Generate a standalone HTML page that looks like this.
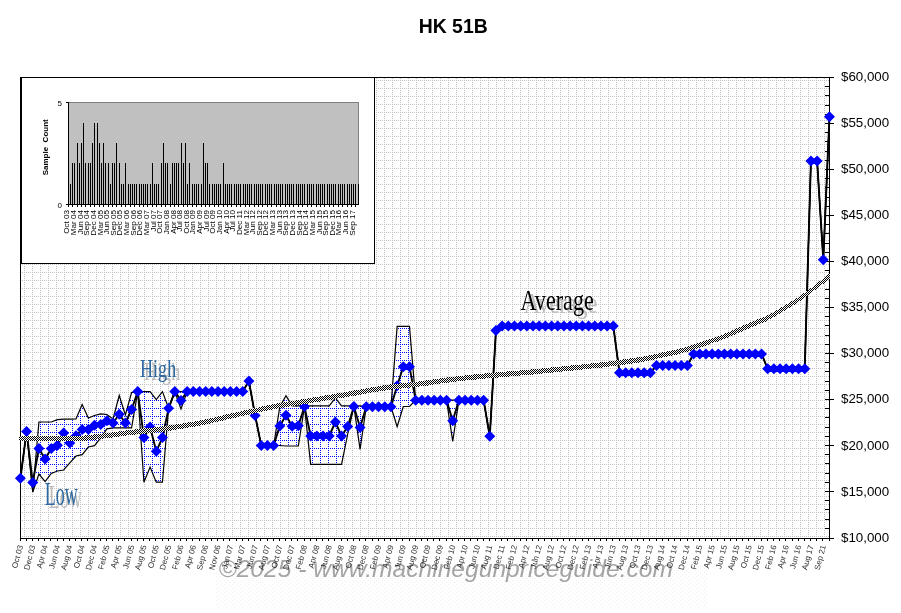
<!DOCTYPE html><html><head><meta charset="utf-8"><title>HK 51B</title><style>html,body{margin:0;padding:0;background:#fff}body{width:901px;height:613px;overflow:hidden}svg{display:block;will-change:transform}text{font-family:"Liberation Sans",sans-serif}</style></head><body>
<svg width="901" height="613" viewBox="0 0 901 613">
<defs>
<pattern id="gg" width="8" height="8" patternUnits="userSpaceOnUse"><rect x="0" y="0" width="1" height="1" fill="#c0c0c0"/><rect x="2" y="0" width="1" height="1" fill="#c0c0c0"/><rect x="4" y="0" width="1" height="1" fill="#c0c0c0"/><rect x="6" y="0" width="1" height="1" fill="#c0c0c0"/><rect x="0" y="2" width="1" height="1" fill="#c0c0c0"/><rect x="0" y="4" width="1" height="1" fill="#c0c0c0"/><rect x="0" y="6" width="1" height="1" fill="#c0c0c0"/></pattern>
<pattern id="gb" width="8" height="8" patternUnits="userSpaceOnUse"><rect x="0" y="0" width="1" height="1" fill="#0000ff"/><rect x="2" y="0" width="1" height="1" fill="#0000ff"/><rect x="4" y="0" width="1" height="1" fill="#0000ff"/><rect x="6" y="0" width="1" height="1" fill="#0000ff"/><rect x="0" y="2" width="1" height="1" fill="#0000ff"/><rect x="0" y="4" width="1" height="1" fill="#0000ff"/><rect x="0" y="6" width="1" height="1" fill="#0000ff"/></pattern>
<pattern id="ck" width="2" height="2" patternUnits="userSpaceOnUse"><rect width="2" height="2" fill="#fff"/><rect x="0" y="0" width="1" height="1" fill="#000"/><rect x="1" y="1" width="1" height="1" fill="#000"/></pattern>
<pattern id="wm" width="4" height="4" patternUnits="userSpaceOnUse"><rect x="0" y="0" width="1" height="1" fill="#f0f0f0"/><rect x="2" y="2" width="1" height="1" fill="#f0f0f0"/></pattern>
</defs>
<rect width="901" height="613" fill="#fff"/>
<text x="453.2" y="32.8" font-size="19.4" font-weight="bold" text-anchor="middle" fill="#000">HK 51B</text>
<g shape-rendering="crispEdges">
<rect x="22" y="78" width="807" height="460" fill="url(#gg)"/>
</g>
<g shape-rendering="crispEdges" fill="#000">
<rect x="20" y="77" width="1" height="462"/>
<rect x="20" y="77" width="810" height="1"/>
<rect x="829" y="77" width="1" height="462"/>
<rect x="20" y="538" width="810" height="1"/>
<rect x="825" y="77" width="9" height="1"/>
<rect x="825" y="86" width="4" height="1"/>
<rect x="825" y="95" width="4" height="1"/>
<rect x="825" y="105" width="4" height="1"/>
<rect x="825" y="114" width="4" height="1"/>
<rect x="825" y="123" width="9" height="1"/>
<rect x="825" y="132" width="4" height="1"/>
<rect x="825" y="141" width="4" height="1"/>
<rect x="825" y="151" width="4" height="1"/>
<rect x="825" y="160" width="4" height="1"/>
<rect x="825" y="169" width="9" height="1"/>
<rect x="825" y="178" width="4" height="1"/>
<rect x="825" y="187" width="4" height="1"/>
<rect x="825" y="197" width="4" height="1"/>
<rect x="825" y="206" width="4" height="1"/>
<rect x="825" y="215" width="9" height="1"/>
<rect x="825" y="224" width="4" height="1"/>
<rect x="825" y="233" width="4" height="1"/>
<rect x="825" y="243" width="4" height="1"/>
<rect x="825" y="252" width="4" height="1"/>
<rect x="825" y="261" width="9" height="1"/>
<rect x="825" y="270" width="4" height="1"/>
<rect x="825" y="279" width="4" height="1"/>
<rect x="825" y="289" width="4" height="1"/>
<rect x="825" y="298" width="4" height="1"/>
<rect x="825" y="307" width="9" height="1"/>
<rect x="825" y="316" width="4" height="1"/>
<rect x="825" y="325" width="4" height="1"/>
<rect x="825" y="335" width="4" height="1"/>
<rect x="825" y="344" width="4" height="1"/>
<rect x="825" y="353" width="9" height="1"/>
<rect x="825" y="362" width="4" height="1"/>
<rect x="825" y="371" width="4" height="1"/>
<rect x="825" y="381" width="4" height="1"/>
<rect x="825" y="390" width="4" height="1"/>
<rect x="825" y="399" width="9" height="1"/>
<rect x="825" y="408" width="4" height="1"/>
<rect x="825" y="417" width="4" height="1"/>
<rect x="825" y="427" width="4" height="1"/>
<rect x="825" y="436" width="4" height="1"/>
<rect x="825" y="445" width="9" height="1"/>
<rect x="825" y="454" width="4" height="1"/>
<rect x="825" y="463" width="4" height="1"/>
<rect x="825" y="473" width="4" height="1"/>
<rect x="825" y="482" width="4" height="1"/>
<rect x="825" y="491" width="9" height="1"/>
<rect x="825" y="500" width="4" height="1"/>
<rect x="825" y="509" width="4" height="1"/>
<rect x="825" y="519" width="4" height="1"/>
<rect x="825" y="528" width="4" height="1"/>
<rect x="825" y="538" width="9" height="1"/>
<rect x="20" y="538" width="1" height="3"/>
<rect x="26" y="538" width="1" height="3"/>
<rect x="32" y="538" width="1" height="3"/>
<rect x="38" y="538" width="1" height="3"/>
<rect x="44" y="538" width="1" height="3"/>
<rect x="50" y="538" width="1" height="3"/>
<rect x="57" y="538" width="1" height="3"/>
<rect x="63" y="538" width="1" height="3"/>
<rect x="69" y="538" width="1" height="3"/>
<rect x="75" y="538" width="1" height="3"/>
<rect x="81" y="538" width="1" height="3"/>
<rect x="87" y="538" width="1" height="3"/>
<rect x="94" y="538" width="1" height="3"/>
<rect x="100" y="538" width="1" height="3"/>
<rect x="106" y="538" width="1" height="3"/>
<rect x="112" y="538" width="1" height="3"/>
<rect x="118" y="538" width="1" height="3"/>
<rect x="124" y="538" width="1" height="3"/>
<rect x="131" y="538" width="1" height="3"/>
<rect x="137" y="538" width="1" height="3"/>
<rect x="143" y="538" width="1" height="3"/>
<rect x="149" y="538" width="1" height="3"/>
<rect x="155" y="538" width="1" height="3"/>
<rect x="162" y="538" width="1" height="3"/>
<rect x="168" y="538" width="1" height="3"/>
<rect x="174" y="538" width="1" height="3"/>
<rect x="180" y="538" width="1" height="3"/>
<rect x="186" y="538" width="1" height="3"/>
<rect x="192" y="538" width="1" height="3"/>
<rect x="199" y="538" width="1" height="3"/>
<rect x="205" y="538" width="1" height="3"/>
<rect x="211" y="538" width="1" height="3"/>
<rect x="217" y="538" width="1" height="3"/>
<rect x="223" y="538" width="1" height="3"/>
<rect x="229" y="538" width="1" height="3"/>
<rect x="236" y="538" width="1" height="3"/>
<rect x="242" y="538" width="1" height="3"/>
<rect x="248" y="538" width="1" height="3"/>
<rect x="254" y="538" width="1" height="3"/>
<rect x="260" y="538" width="1" height="3"/>
<rect x="267" y="538" width="1" height="3"/>
<rect x="273" y="538" width="1" height="3"/>
<rect x="279" y="538" width="1" height="3"/>
<rect x="285" y="538" width="1" height="3"/>
<rect x="291" y="538" width="1" height="3"/>
<rect x="297" y="538" width="1" height="3"/>
<rect x="304" y="538" width="1" height="3"/>
<rect x="310" y="538" width="1" height="3"/>
<rect x="316" y="538" width="1" height="3"/>
<rect x="322" y="538" width="1" height="3"/>
<rect x="328" y="538" width="1" height="3"/>
<rect x="334" y="538" width="1" height="3"/>
<rect x="341" y="538" width="1" height="3"/>
<rect x="347" y="538" width="1" height="3"/>
<rect x="353" y="538" width="1" height="3"/>
<rect x="359" y="538" width="1" height="3"/>
<rect x="365" y="538" width="1" height="3"/>
<rect x="372" y="538" width="1" height="3"/>
<rect x="378" y="538" width="1" height="3"/>
<rect x="384" y="538" width="1" height="3"/>
<rect x="390" y="538" width="1" height="3"/>
<rect x="396" y="538" width="1" height="3"/>
<rect x="402" y="538" width="1" height="3"/>
<rect x="409" y="538" width="1" height="3"/>
<rect x="415" y="538" width="1" height="3"/>
<rect x="421" y="538" width="1" height="3"/>
<rect x="427" y="538" width="1" height="3"/>
<rect x="433" y="538" width="1" height="3"/>
<rect x="439" y="538" width="1" height="3"/>
<rect x="446" y="538" width="1" height="3"/>
<rect x="452" y="538" width="1" height="3"/>
<rect x="458" y="538" width="1" height="3"/>
<rect x="464" y="538" width="1" height="3"/>
<rect x="470" y="538" width="1" height="3"/>
<rect x="477" y="538" width="1" height="3"/>
<rect x="483" y="538" width="1" height="3"/>
<rect x="489" y="538" width="1" height="3"/>
<rect x="495" y="538" width="1" height="3"/>
<rect x="501" y="538" width="1" height="3"/>
<rect x="507" y="538" width="1" height="3"/>
<rect x="514" y="538" width="1" height="3"/>
<rect x="520" y="538" width="1" height="3"/>
<rect x="526" y="538" width="1" height="3"/>
<rect x="532" y="538" width="1" height="3"/>
<rect x="538" y="538" width="1" height="3"/>
<rect x="544" y="538" width="1" height="3"/>
<rect x="551" y="538" width="1" height="3"/>
<rect x="557" y="538" width="1" height="3"/>
<rect x="563" y="538" width="1" height="3"/>
<rect x="569" y="538" width="1" height="3"/>
<rect x="575" y="538" width="1" height="3"/>
<rect x="582" y="538" width="1" height="3"/>
<rect x="588" y="538" width="1" height="3"/>
<rect x="594" y="538" width="1" height="3"/>
<rect x="600" y="538" width="1" height="3"/>
<rect x="606" y="538" width="1" height="3"/>
<rect x="612" y="538" width="1" height="3"/>
<rect x="619" y="538" width="1" height="3"/>
<rect x="625" y="538" width="1" height="3"/>
<rect x="631" y="538" width="1" height="3"/>
<rect x="637" y="538" width="1" height="3"/>
<rect x="643" y="538" width="1" height="3"/>
<rect x="649" y="538" width="1" height="3"/>
<rect x="656" y="538" width="1" height="3"/>
<rect x="662" y="538" width="1" height="3"/>
<rect x="668" y="538" width="1" height="3"/>
<rect x="674" y="538" width="1" height="3"/>
<rect x="680" y="538" width="1" height="3"/>
<rect x="687" y="538" width="1" height="3"/>
<rect x="693" y="538" width="1" height="3"/>
<rect x="699" y="538" width="1" height="3"/>
<rect x="705" y="538" width="1" height="3"/>
<rect x="711" y="538" width="1" height="3"/>
<rect x="717" y="538" width="1" height="3"/>
<rect x="724" y="538" width="1" height="3"/>
<rect x="730" y="538" width="1" height="3"/>
<rect x="736" y="538" width="1" height="3"/>
<rect x="742" y="538" width="1" height="3"/>
<rect x="748" y="538" width="1" height="3"/>
<rect x="754" y="538" width="1" height="3"/>
<rect x="761" y="538" width="1" height="3"/>
<rect x="767" y="538" width="1" height="3"/>
<rect x="773" y="538" width="1" height="3"/>
<rect x="779" y="538" width="1" height="3"/>
<rect x="785" y="538" width="1" height="3"/>
<rect x="792" y="538" width="1" height="3"/>
<rect x="798" y="538" width="1" height="3"/>
<rect x="804" y="538" width="1" height="3"/>
<rect x="810" y="538" width="1" height="3"/>
<rect x="816" y="538" width="1" height="3"/>
<rect x="822" y="538" width="1" height="3"/>
<rect x="829" y="538" width="1" height="3"/>
</g>
<path d="M32.75 492 L38.93 422 L45.1 422 L51.28 422 L57.46 419.6 L63.63 419.2 L69.81 419.2 L75.98 419 L82.16 404.6 L88.34 418 L94.51 415.5 L100.69 413.9 L106.86 414.5 L113.04 419 L119.22 395.5 L125.39 415 L131.57 392.6 L137.74 391.6 L143.92 391.6 L150.1 391.6 L156.27 399.5 L162.45 391.6 L168.62 408.3 L174.8 391.6 L180.98 391.6 L187.15 391.5 L187.15 391.5 L180.98 409 L174.8 391.6 L168.62 408.3 L162.45 482.2 L156.27 482.2 L150.1 467 L143.92 482.2 L137.74 391.6 L131.57 427.8 L125.39 427.8 L119.22 427.8 L113.04 427.8 L106.86 428.8 L100.69 438 L94.51 445.7 L88.34 447 L82.16 454.6 L75.98 456 L69.81 462.8 L63.63 470 L57.46 471 L51.28 473.4 L45.1 481.6 L38.93 474 L32.75 492Z" fill="#fff"/><path d="M32.75 492 L38.93 422 L45.1 422 L51.28 422 L57.46 419.6 L63.63 419.2 L69.81 419.2 L75.98 419 L82.16 404.6 L88.34 418 L94.51 415.5 L100.69 413.9 L106.86 414.5 L113.04 419 L119.22 395.5 L125.39 415 L131.57 392.6 L137.74 391.6 L143.92 391.6 L150.1 391.6 L156.27 399.5 L162.45 391.6 L168.62 408.3 L174.8 391.6 L180.98 391.6 L187.15 391.5 L187.15 391.5 L180.98 409 L174.8 391.6 L168.62 408.3 L162.45 482.2 L156.27 482.2 L150.1 467 L143.92 482.2 L137.74 391.6 L131.57 427.8 L125.39 427.8 L119.22 427.8 L113.04 427.8 L106.86 428.8 L100.69 438 L94.51 445.7 L88.34 447 L82.16 454.6 L75.98 456 L69.81 462.8 L63.63 470 L57.46 471 L51.28 473.4 L45.1 481.6 L38.93 474 L32.75 492Z" fill="url(#gb)" shape-rendering="crispEdges"/>
<path d="M273.62 445.5 L279.79 407 L285.97 395.6 L292.14 405.8 L298.32 405.8 L304.5 405.8 L310.67 405.8 L316.85 405.8 L323.02 405.8 L329.2 405.8 L335.38 398 L341.55 405.8 L347.73 405.8 L353.9 405.8 L360.08 405.8 L366.26 406.7 L366.26 406.7 L360.08 449.3 L353.9 406.6 L347.73 434 L341.55 464.3 L335.38 464.3 L329.2 464.3 L323.02 464.3 L316.85 464.3 L310.67 464.3 L304.5 406.6 L298.32 446 L292.14 446 L285.97 446 L279.79 445.5 L273.62 445.5Z" fill="#fff"/><path d="M273.62 445.5 L279.79 407 L285.97 395.6 L292.14 405.8 L298.32 405.8 L304.5 405.8 L310.67 405.8 L316.85 405.8 L323.02 405.8 L329.2 405.8 L335.38 398 L341.55 405.8 L347.73 405.8 L353.9 405.8 L360.08 405.8 L366.26 406.7 L366.26 406.7 L360.08 449.3 L353.9 406.6 L347.73 434 L341.55 464.3 L335.38 464.3 L329.2 464.3 L323.02 464.3 L316.85 464.3 L310.67 464.3 L304.5 406.6 L298.32 446 L292.14 446 L285.97 446 L279.79 445.5 L273.62 445.5Z" fill="url(#gb)" shape-rendering="crispEdges"/>
<path d="M390.96 406.7 L397.14 326.4 L403.31 326.4 L409.49 326.4 L415.66 400.2 L415.66 400.2 L409.49 406.5 L403.31 406.5 L397.14 426.7 L390.96 406.7Z" fill="#fff"/><path d="M390.96 406.7 L397.14 326.4 L403.31 326.4 L409.49 326.4 L415.66 400.2 L415.66 400.2 L409.49 406.5 L403.31 406.5 L397.14 426.7 L390.96 406.7Z" fill="url(#gb)" shape-rendering="crispEdges"/>
<path d="M446.54 400.2 L452.72 400.2 L458.9 400.2 L458.9 400.2 L452.72 441.3 L446.54 400.2Z" fill="#fff"/><path d="M446.54 400.2 L452.72 400.2 L458.9 400.2 L458.9 400.2 L452.72 441.3 L446.54 400.2Z" fill="url(#gb)" shape-rendering="crispEdges"/>
<path d="M20.4 478.3 L26.58 431.5 L32.75 492 L38.93 422 L45.1 422 L51.28 422 L57.46 419.6 L63.63 419.2 L69.81 419.2 L75.98 419 L82.16 404.6 L88.34 418 L94.51 415.5 L100.69 413.9 L106.86 414.5 L113.04 419 L119.22 395.5 L125.39 415 L131.57 392.6 L137.74 391.6 L143.92 391.6 L150.1 391.6 L156.27 399.5 L162.45 391.6 L168.62 408.3 L174.8 391.6 L180.98 391.6 L187.15 391.5 L193.33 391.5 L199.5 391.5 L205.68 391.5 L211.86 391.5 L218.03 391.5 L224.21 391.5 L230.38 391.5 L236.56 391.5 L242.74 391.5 L248.91 381.1 L255.09 415.4 L261.26 445.5 L267.44 445.5 L273.62 445.5 L279.79 407 L285.97 395.6 L292.14 405.8 L298.32 405.8 L304.5 405.8 L310.67 405.8 L316.85 405.8 L323.02 405.8 L329.2 405.8 L335.38 398 L341.55 405.8 L347.73 405.8 L353.9 405.8 L360.08 405.8 L366.26 406.7 L372.43 406.7 L378.61 406.7 L384.78 406.7 L390.96 406.7 L397.14 326.4 L403.31 326.4 L409.49 326.4 L415.66 400.2 L421.84 400.2 L428.02 400.2 L434.19 400.2 L440.37 400.2 L446.54 400.2 L452.72 400.2 L458.9 400.2 L465.07 400.2 L471.25 400.2 L477.42 400.2 L483.6 400.2 L489.78 436.3 L495.95 330.5 L502.13 326.1 L508.3 326.1 L514.48 326.1 L520.66 326.1 L526.83 326.1 L533.01 326.1 L539.18 326.1 L545.36 326.1 L551.54 326.1 L557.71 326.1 L563.89 326.1 L570.06 326.1 L576.24 326.1 L582.42 326.1 L588.59 326.1 L594.77 326.1 L600.94 326.1 L607.12 326.1 L613.3 326.1 L619.47 372.7 L625.65 372.7 L631.82 372.7 L638 372.7 L644.18 372.7 L650.35 372.7 L656.53 365.6 L662.7 365.6 L668.88 365.6 L675.06 365.6 L681.23 365.6 L687.41 365.6 L693.58 353.9 L699.76 353.9 L705.94 353.9 L712.11 353.9 L718.29 353.9 L724.46 353.9 L730.64 353.9 L736.82 353.9 L742.99 353.9 L749.17 353.9 L755.34 353.9 L761.52 353.9 L767.7 368.8 L773.87 368.8 L780.05 368.8 L786.22 368.8 L792.4 368.8 L798.58 368.8 L804.75 368.8 L810.93 160.9 L817.1 160.9 L823.28 259.7 L829.46 116.8" fill="none" stroke="#000" stroke-width="1.2" stroke-linejoin="miter"/>
<path d="M20.4 478.3 L26.58 431.5 L32.75 492 L38.93 474 L45.1 481.6 L51.28 473.4 L57.46 471 L63.63 470 L69.81 462.8 L75.98 456 L82.16 454.6 L88.34 447 L94.51 445.7 L100.69 438 L106.86 428.8 L113.04 427.8 L119.22 427.8 L125.39 427.8 L131.57 427.8 L137.74 391.6 L143.92 482.2 L150.1 467 L156.27 482.2 L162.45 482.2 L168.62 408.3 L174.8 391.6 L180.98 409 L187.15 391.5 L193.33 391.5 L199.5 391.5 L205.68 391.5 L211.86 391.5 L218.03 391.5 L224.21 391.5 L230.38 391.5 L236.56 391.5 L242.74 391.5 L248.91 381.1 L255.09 415.4 L261.26 445.5 L267.44 445.5 L273.62 445.5 L279.79 445.5 L285.97 446 L292.14 446 L298.32 446 L304.5 406.6 L310.67 464.3 L316.85 464.3 L323.02 464.3 L329.2 464.3 L335.38 464.3 L341.55 464.3 L347.73 434 L353.9 406.6 L360.08 449.3 L366.26 406.7 L372.43 406.7 L378.61 406.7 L384.78 406.7 L390.96 406.7 L397.14 426.7 L403.31 406.5 L409.49 406.5 L415.66 400.2 L421.84 400.2 L428.02 400.2 L434.19 400.2 L440.37 400.2 L446.54 400.2 L452.72 441.3 L458.9 400.2 L465.07 400.2 L471.25 400.2 L477.42 400.2 L483.6 400.2 L489.78 436.3 L495.95 330.5 L502.13 326.1 L508.3 326.1 L514.48 326.1 L520.66 326.1 L526.83 326.1 L533.01 326.1 L539.18 326.1 L545.36 326.1 L551.54 326.1 L557.71 326.1 L563.89 326.1 L570.06 326.1 L576.24 326.1 L582.42 326.1 L588.59 326.1 L594.77 326.1 L600.94 326.1 L607.12 326.1 L613.3 326.1 L619.47 372.7 L625.65 372.7 L631.82 372.7 L638 372.7 L644.18 372.7 L650.35 372.7 L656.53 365.6 L662.7 365.6 L668.88 365.6 L675.06 365.6 L681.23 365.6 L687.41 365.6 L693.58 353.9 L699.76 353.9 L705.94 353.9 L712.11 353.9 L718.29 353.9 L724.46 353.9 L730.64 353.9 L736.82 353.9 L742.99 353.9 L749.17 353.9 L755.34 353.9 L761.52 353.9 L767.7 368.8 L773.87 368.8 L780.05 368.8 L786.22 368.8 L792.4 368.8 L798.58 368.8 L804.75 368.8 L810.93 160.9 L817.1 160.9 L823.28 259.7 L829.46 116.8" fill="none" stroke="#000" stroke-width="1.2" stroke-linejoin="miter"/>
<path d="M20.4 478.3 L26.58 431.5 L32.75 482.4 L38.93 448.5 L45.1 459 L51.28 448.5 L57.46 445.2 L63.63 433 L69.81 443 L75.98 435.7 L82.16 429.6 L88.34 429.6 L94.51 425.3 L100.69 424.5 L106.86 420.7 L113.04 423 L119.22 414.3 L125.39 423 L131.57 409.5 L137.74 391.6 L143.92 437.6 L150.1 426.9 L156.27 451.3 L162.45 437.6 L168.62 408.3 L174.8 391.6 L180.98 400.4 L187.15 391.5 L193.33 391.5 L199.5 391.5 L205.68 391.5 L211.86 391.5 L218.03 391.5 L224.21 391.5 L230.38 391.5 L236.56 391.5 L242.74 391.5 L248.91 381.1 L255.09 415.4 L261.26 445.5 L267.44 445.5 L273.62 445.5 L279.79 426 L285.97 415.2 L292.14 426.2 L298.32 425.7 L304.5 406.6 L310.67 436 L316.85 436 L323.02 436 L329.2 436 L335.38 422 L341.55 436 L347.73 426.5 L353.9 406.6 L360.08 427.6 L366.26 406.7 L372.43 406.7 L378.61 406.7 L384.78 406.7 L390.96 406.7 L397.14 385.7 L403.31 366.7 L409.49 366.7 L415.66 400.2 L421.84 400.2 L428.02 400.2 L434.19 400.2 L440.37 400.2 L446.54 400.2 L452.72 420.7 L458.9 400.2 L465.07 400.2 L471.25 400.2 L477.42 400.2 L483.6 400.2 L489.78 436.3 L495.95 330.5 L502.13 326.1 L508.3 326.1 L514.48 326.1 L520.66 326.1 L526.83 326.1 L533.01 326.1 L539.18 326.1 L545.36 326.1 L551.54 326.1 L557.71 326.1 L563.89 326.1 L570.06 326.1 L576.24 326.1 L582.42 326.1 L588.59 326.1 L594.77 326.1 L600.94 326.1 L607.12 326.1 L613.3 326.1 L619.47 372.7 L625.65 372.7 L631.82 372.7 L638 372.7 L644.18 372.7 L650.35 372.7 L656.53 365.6 L662.7 365.6 L668.88 365.6 L675.06 365.6 L681.23 365.6 L687.41 365.6 L693.58 353.9 L699.76 353.9 L705.94 353.9 L712.11 353.9 L718.29 353.9 L724.46 353.9 L730.64 353.9 L736.82 353.9 L742.99 353.9 L749.17 353.9 L755.34 353.9 L761.52 353.9 L767.7 368.8 L773.87 368.8 L780.05 368.8 L786.22 368.8 L792.4 368.8 L798.58 368.8 L804.75 368.8 L810.93 160.9 L817.1 160.9 L823.28 259.7 L829.46 116.8" fill="none" stroke="#000" stroke-width="1.9" stroke-linejoin="round"/>
<path d="M14.9 478.3l5.5 -5.5l5.5 5.5l-5.5 5.5zM21.08 431.5l5.5 -5.5l5.5 5.5l-5.5 5.5zM27.25 482.4l5.5 -5.5l5.5 5.5l-5.5 5.5zM33.43 448.5l5.5 -5.5l5.5 5.5l-5.5 5.5zM39.6 459l5.5 -5.5l5.5 5.5l-5.5 5.5zM45.78 448.5l5.5 -5.5l5.5 5.5l-5.5 5.5zM51.96 445.2l5.5 -5.5l5.5 5.5l-5.5 5.5zM58.13 433l5.5 -5.5l5.5 5.5l-5.5 5.5zM64.31 443l5.5 -5.5l5.5 5.5l-5.5 5.5zM70.48 435.7l5.5 -5.5l5.5 5.5l-5.5 5.5zM76.66 429.6l5.5 -5.5l5.5 5.5l-5.5 5.5zM82.84 429.6l5.5 -5.5l5.5 5.5l-5.5 5.5zM89.01 425.3l5.5 -5.5l5.5 5.5l-5.5 5.5zM95.19 424.5l5.5 -5.5l5.5 5.5l-5.5 5.5zM101.36 420.7l5.5 -5.5l5.5 5.5l-5.5 5.5zM107.54 423l5.5 -5.5l5.5 5.5l-5.5 5.5zM113.72 414.3l5.5 -5.5l5.5 5.5l-5.5 5.5zM119.89 423l5.5 -5.5l5.5 5.5l-5.5 5.5zM126.07 409.5l5.5 -5.5l5.5 5.5l-5.5 5.5zM132.24 391.6l5.5 -5.5l5.5 5.5l-5.5 5.5zM138.42 437.6l5.5 -5.5l5.5 5.5l-5.5 5.5zM144.6 426.9l5.5 -5.5l5.5 5.5l-5.5 5.5zM150.77 451.3l5.5 -5.5l5.5 5.5l-5.5 5.5zM156.95 437.6l5.5 -5.5l5.5 5.5l-5.5 5.5zM163.12 408.3l5.5 -5.5l5.5 5.5l-5.5 5.5zM169.3 391.6l5.5 -5.5l5.5 5.5l-5.5 5.5zM175.48 400.4l5.5 -5.5l5.5 5.5l-5.5 5.5zM181.65 391.5l5.5 -5.5l5.5 5.5l-5.5 5.5zM187.83 391.5l5.5 -5.5l5.5 5.5l-5.5 5.5zM194 391.5l5.5 -5.5l5.5 5.5l-5.5 5.5zM200.18 391.5l5.5 -5.5l5.5 5.5l-5.5 5.5zM206.36 391.5l5.5 -5.5l5.5 5.5l-5.5 5.5zM212.53 391.5l5.5 -5.5l5.5 5.5l-5.5 5.5zM218.71 391.5l5.5 -5.5l5.5 5.5l-5.5 5.5zM224.88 391.5l5.5 -5.5l5.5 5.5l-5.5 5.5zM231.06 391.5l5.5 -5.5l5.5 5.5l-5.5 5.5zM237.24 391.5l5.5 -5.5l5.5 5.5l-5.5 5.5zM243.41 381.1l5.5 -5.5l5.5 5.5l-5.5 5.5zM249.59 415.4l5.5 -5.5l5.5 5.5l-5.5 5.5zM255.76 445.5l5.5 -5.5l5.5 5.5l-5.5 5.5zM261.94 445.5l5.5 -5.5l5.5 5.5l-5.5 5.5zM268.12 445.5l5.5 -5.5l5.5 5.5l-5.5 5.5zM274.29 426l5.5 -5.5l5.5 5.5l-5.5 5.5zM280.47 415.2l5.5 -5.5l5.5 5.5l-5.5 5.5zM286.64 426.2l5.5 -5.5l5.5 5.5l-5.5 5.5zM292.82 425.7l5.5 -5.5l5.5 5.5l-5.5 5.5zM299 406.6l5.5 -5.5l5.5 5.5l-5.5 5.5zM305.17 436l5.5 -5.5l5.5 5.5l-5.5 5.5zM311.35 436l5.5 -5.5l5.5 5.5l-5.5 5.5zM317.52 436l5.5 -5.5l5.5 5.5l-5.5 5.5zM323.7 436l5.5 -5.5l5.5 5.5l-5.5 5.5zM329.88 422l5.5 -5.5l5.5 5.5l-5.5 5.5zM336.05 436l5.5 -5.5l5.5 5.5l-5.5 5.5zM342.23 426.5l5.5 -5.5l5.5 5.5l-5.5 5.5zM348.4 406.6l5.5 -5.5l5.5 5.5l-5.5 5.5zM354.58 427.6l5.5 -5.5l5.5 5.5l-5.5 5.5zM360.76 406.7l5.5 -5.5l5.5 5.5l-5.5 5.5zM366.93 406.7l5.5 -5.5l5.5 5.5l-5.5 5.5zM373.11 406.7l5.5 -5.5l5.5 5.5l-5.5 5.5zM379.28 406.7l5.5 -5.5l5.5 5.5l-5.5 5.5zM385.46 406.7l5.5 -5.5l5.5 5.5l-5.5 5.5zM391.64 385.7l5.5 -5.5l5.5 5.5l-5.5 5.5zM397.81 366.7l5.5 -5.5l5.5 5.5l-5.5 5.5zM403.99 366.7l5.5 -5.5l5.5 5.5l-5.5 5.5zM410.16 400.2l5.5 -5.5l5.5 5.5l-5.5 5.5zM416.34 400.2l5.5 -5.5l5.5 5.5l-5.5 5.5zM422.52 400.2l5.5 -5.5l5.5 5.5l-5.5 5.5zM428.69 400.2l5.5 -5.5l5.5 5.5l-5.5 5.5zM434.87 400.2l5.5 -5.5l5.5 5.5l-5.5 5.5zM441.04 400.2l5.5 -5.5l5.5 5.5l-5.5 5.5zM447.22 420.7l5.5 -5.5l5.5 5.5l-5.5 5.5zM453.4 400.2l5.5 -5.5l5.5 5.5l-5.5 5.5zM459.57 400.2l5.5 -5.5l5.5 5.5l-5.5 5.5zM465.75 400.2l5.5 -5.5l5.5 5.5l-5.5 5.5zM471.92 400.2l5.5 -5.5l5.5 5.5l-5.5 5.5zM478.1 400.2l5.5 -5.5l5.5 5.5l-5.5 5.5zM484.28 436.3l5.5 -5.5l5.5 5.5l-5.5 5.5zM490.45 330.5l5.5 -5.5l5.5 5.5l-5.5 5.5zM496.63 326.1l5.5 -5.5l5.5 5.5l-5.5 5.5zM502.8 326.1l5.5 -5.5l5.5 5.5l-5.5 5.5zM508.98 326.1l5.5 -5.5l5.5 5.5l-5.5 5.5zM515.16 326.1l5.5 -5.5l5.5 5.5l-5.5 5.5zM521.33 326.1l5.5 -5.5l5.5 5.5l-5.5 5.5zM527.51 326.1l5.5 -5.5l5.5 5.5l-5.5 5.5zM533.68 326.1l5.5 -5.5l5.5 5.5l-5.5 5.5zM539.86 326.1l5.5 -5.5l5.5 5.5l-5.5 5.5zM546.04 326.1l5.5 -5.5l5.5 5.5l-5.5 5.5zM552.21 326.1l5.5 -5.5l5.5 5.5l-5.5 5.5zM558.39 326.1l5.5 -5.5l5.5 5.5l-5.5 5.5zM564.56 326.1l5.5 -5.5l5.5 5.5l-5.5 5.5zM570.74 326.1l5.5 -5.5l5.5 5.5l-5.5 5.5zM576.92 326.1l5.5 -5.5l5.5 5.5l-5.5 5.5zM583.09 326.1l5.5 -5.5l5.5 5.5l-5.5 5.5zM589.27 326.1l5.5 -5.5l5.5 5.5l-5.5 5.5zM595.44 326.1l5.5 -5.5l5.5 5.5l-5.5 5.5zM601.62 326.1l5.5 -5.5l5.5 5.5l-5.5 5.5zM607.8 326.1l5.5 -5.5l5.5 5.5l-5.5 5.5zM613.97 372.7l5.5 -5.5l5.5 5.5l-5.5 5.5zM620.15 372.7l5.5 -5.5l5.5 5.5l-5.5 5.5zM626.32 372.7l5.5 -5.5l5.5 5.5l-5.5 5.5zM632.5 372.7l5.5 -5.5l5.5 5.5l-5.5 5.5zM638.68 372.7l5.5 -5.5l5.5 5.5l-5.5 5.5zM644.85 372.7l5.5 -5.5l5.5 5.5l-5.5 5.5zM651.03 365.6l5.5 -5.5l5.5 5.5l-5.5 5.5zM657.2 365.6l5.5 -5.5l5.5 5.5l-5.5 5.5zM663.38 365.6l5.5 -5.5l5.5 5.5l-5.5 5.5zM669.56 365.6l5.5 -5.5l5.5 5.5l-5.5 5.5zM675.73 365.6l5.5 -5.5l5.5 5.5l-5.5 5.5zM681.91 365.6l5.5 -5.5l5.5 5.5l-5.5 5.5zM688.08 353.9l5.5 -5.5l5.5 5.5l-5.5 5.5zM694.26 353.9l5.5 -5.5l5.5 5.5l-5.5 5.5zM700.44 353.9l5.5 -5.5l5.5 5.5l-5.5 5.5zM706.61 353.9l5.5 -5.5l5.5 5.5l-5.5 5.5zM712.79 353.9l5.5 -5.5l5.5 5.5l-5.5 5.5zM718.96 353.9l5.5 -5.5l5.5 5.5l-5.5 5.5zM725.14 353.9l5.5 -5.5l5.5 5.5l-5.5 5.5zM731.32 353.9l5.5 -5.5l5.5 5.5l-5.5 5.5zM737.49 353.9l5.5 -5.5l5.5 5.5l-5.5 5.5zM743.67 353.9l5.5 -5.5l5.5 5.5l-5.5 5.5zM749.84 353.9l5.5 -5.5l5.5 5.5l-5.5 5.5zM756.02 353.9l5.5 -5.5l5.5 5.5l-5.5 5.5zM762.2 368.8l5.5 -5.5l5.5 5.5l-5.5 5.5zM768.37 368.8l5.5 -5.5l5.5 5.5l-5.5 5.5zM774.55 368.8l5.5 -5.5l5.5 5.5l-5.5 5.5zM780.72 368.8l5.5 -5.5l5.5 5.5l-5.5 5.5zM786.9 368.8l5.5 -5.5l5.5 5.5l-5.5 5.5zM793.08 368.8l5.5 -5.5l5.5 5.5l-5.5 5.5zM799.25 368.8l5.5 -5.5l5.5 5.5l-5.5 5.5zM805.43 160.9l5.5 -5.5l5.5 5.5l-5.5 5.5zM811.6 160.9l5.5 -5.5l5.5 5.5l-5.5 5.5zM817.78 259.7l5.5 -5.5l5.5 5.5l-5.5 5.5zM823.96 116.8l5.5 -5.5l5.5 5.5l-5.5 5.5z" fill="#0000ff"/>
<path d="M18.5 435.5 L19.54 435.53 L20.86 435.56 L22.4 435.6 L24.13 435.64 L26.01 435.69 L28 435.74 L30.06 435.79 L32.15 435.84 L34.23 435.89 L36.25 435.93 L38.19 435.97 L40 436 L41.7 436.02 L43.35 436.05 L44.96 436.07 L46.56 436.09 L48.14 436.11 L49.72 436.12 L51.32 436.14 L52.94 436.14 L54.61 436.14 L56.34 436.13 L58.13 436.12 L60 436.1 L62 436.07 L64.15 436.04 L66.41 436 L68.74 435.95 L71.12 435.9 L73.5 435.84 L75.86 435.78 L78.15 435.71 L80.34 435.64 L82.41 435.57 L84.3 435.49 L86 435.4 L87.47 435.31 L88.75 435.21 L89.87 435.11 L90.85 435.01 L91.74 434.9 L92.56 434.78 L93.35 434.66 L94.15 434.54 L94.98 434.41 L95.87 434.28 L96.87 434.14 L98 434 L99.25 433.85 L100.57 433.7 L101.95 433.54 L103.37 433.38 L104.83 433.21 L106.31 433.04 L107.81 432.87 L109.3 432.7 L110.77 432.52 L112.22 432.35 L113.64 432.17 L115 432 L116.26 431.83 L117.38 431.68 L118.42 431.52 L119.41 431.37 L120.38 431.22 L121.38 431.06 L122.43 430.9 L123.59 430.73 L124.89 430.55 L126.37 430.35 L128.06 430.13 L130 429.9 L132.21 429.65 L134.66 429.39 L137.32 429.12 L140.15 428.84 L143.11 428.54 L146.19 428.24 L149.33 427.92 L152.52 427.59 L155.71 427.24 L158.88 426.87 L161.98 426.5 L165 426.1 L167.97 425.69 L170.95 425.26 L173.95 424.82 L176.96 424.36 L179.98 423.89 L183 423.41 L186.02 422.91 L189.04 422.39 L192.05 421.86 L195.05 421.32 L198.03 420.77 L201 420.2 L203.95 419.61 L206.88 419 L209.8 418.37 L212.7 417.71 L215.6 417.05 L218.5 416.38 L221.4 415.69 L224.3 415.01 L227.2 414.32 L230.12 413.64 L233.05 412.96 L236 412.3 L239.02 411.63 L242.15 410.93 L245.35 410.21 L248.59 409.49 L251.84 408.77 L255.06 408.05 L258.23 407.35 L261.3 406.68 L264.24 406.04 L267.03 405.44 L269.63 404.89 L272 404.4 L274.11 403.98 L275.96 403.62 L277.6 403.31 L279.07 403.05 L280.42 402.82 L281.69 402.62 L282.92 402.43 L284.15 402.24 L285.43 402.04 L286.8 401.82 L288.31 401.58 L290 401.3 L291.8 400.99 L293.63 400.68 L295.5 400.37 L297.41 400.05 L299.36 399.72 L301.38 399.38 L303.45 399.03 L305.59 398.67 L307.81 398.3 L310.12 397.92 L312.51 397.52 L315 397.1 L317.62 396.66 L320.38 396.2 L323.25 395.73 L326.22 395.23 L329.27 394.73 L332.38 394.21 L335.51 393.69 L338.67 393.17 L341.81 392.64 L344.93 392.12 L348 391.61 L351 391.1 L353.95 390.59 L356.88 390.08 L359.8 389.55 L362.7 389.03 L365.6 388.5 L368.5 387.97 L371.4 387.46 L374.3 386.95 L377.2 386.46 L380.12 385.98 L383.05 385.53 L386 385.1 L389.04 384.69 L392.21 384.29 L395.47 383.91 L398.78 383.54 L402.09 383.19 L405.38 382.85 L408.58 382.52 L411.67 382.21 L414.59 381.91 L417.32 381.63 L419.8 381.36 L422 381.1 L423.83 380.87 L425.3 380.67 L426.47 380.5 L427.41 380.35 L428.19 380.21 L428.88 380.08 L429.54 379.95 L430.26 379.82 L431.09 379.67 L432.12 379.51 L433.39 379.32 L435 379.1 L436.89 378.85 L438.95 378.58 L441.16 378.29 L443.52 377.98 L445.99 377.66 L448.56 377.34 L451.21 377.01 L453.93 376.67 L456.68 376.34 L459.46 376.02 L462.24 375.7 L465 375.4 L467.79 375.1 L470.66 374.81 L473.6 374.52 L476.59 374.23 L479.63 373.94 L482.69 373.66 L485.77 373.37 L488.85 373.09 L491.93 372.81 L494.99 372.54 L498.02 372.27 L501 372 L503.95 371.74 L506.88 371.48 L509.8 371.24 L512.7 370.99 L515.6 370.75 L518.5 370.51 L521.4 370.27 L524.3 370.03 L527.2 369.78 L530.12 369.53 L533.05 369.27 L536 369 L539.02 368.72 L542.15 368.41 L545.35 368.1 L548.59 367.78 L551.84 367.45 L555.06 367.13 L558.23 366.81 L561.3 366.49 L564.24 366.19 L567.03 365.91 L569.63 365.64 L572 365.4 L574.14 365.18 L576.08 364.99 L577.84 364.81 L579.44 364.65 L580.93 364.49 L582.31 364.35 L583.62 364.22 L584.89 364.09 L586.13 363.96 L587.38 363.83 L588.66 363.69 L590 363.55 L591.29 363.42 L592.43 363.3 L593.47 363.2 L594.44 363.11 L595.4 363.02 L596.38 362.92 L597.41 362.81 L598.56 362.69 L599.84 362.54 L601.32 362.37 L603.02 362.15 L605 361.9 L607.3 361.6 L609.91 361.26 L612.78 360.89 L615.85 360.49 L619.07 360.07 L622.38 359.63 L625.72 359.17 L629.04 358.71 L632.28 358.25 L635.39 357.79 L638.32 357.34 L641 356.9 L643.52 356.46 L645.98 356 L648.38 355.52 L650.7 355.03 L652.96 354.55 L655.12 354.06 L657.2 353.59 L659.19 353.13 L661.06 352.7 L662.83 352.3 L664.48 351.93 L666 351.6 L667.34 351.33 L668.45 351.11 L669.39 350.94 L670.19 350.8 L670.88 350.68 L671.5 350.57 L672.1 350.47 L672.7 350.36 L673.36 350.23 L674.1 350.06 L674.97 349.86 L676 349.6 L677.17 349.3 L678.41 348.97 L679.71 348.62 L681.07 348.24 L682.49 347.85 L683.94 347.44 L685.42 347.01 L686.93 346.57 L688.45 346.11 L689.97 345.65 L691.49 345.18 L693 344.7 L694.55 344.2 L696.18 343.65 L697.87 343.08 L699.59 342.48 L701.33 341.87 L703.06 341.26 L704.76 340.65 L706.41 340.07 L707.98 339.51 L709.45 338.99 L710.8 338.52 L712 338.1 L713.05 337.75 L713.95 337.45 L714.73 337.21 L715.41 337 L716.01 336.81 L716.56 336.65 L717.08 336.49 L717.59 336.34 L718.12 336.17 L718.68 335.98 L719.3 335.76 L720 335.5 L720.74 335.21 L721.48 334.92 L722.22 334.63 L722.96 334.32 L723.72 334 L724.5 333.67 L725.31 333.32 L726.15 332.96 L727.03 332.58 L727.96 332.17 L728.95 331.75 L730 331.3 L731.13 330.82 L732.34 330.3 L733.62 329.74 L734.96 329.17 L736.34 328.57 L737.75 327.96 L739.17 327.35 L740.59 326.73 L742 326.12 L743.38 325.53 L744.72 324.95 L746 324.4 L747.25 323.86 L748.5 323.33 L749.73 322.8 L750.96 322.27 L752.18 321.76 L753.38 321.24 L754.55 320.74 L755.7 320.25 L756.83 319.77 L757.92 319.3 L758.98 318.84 L760 318.4 L760.91 318.02 L761.67 317.73 L762.31 317.51 L762.89 317.32 L763.44 317.15 L764 316.96 L764.62 316.72 L765.33 316.42 L766.19 316.03 L767.22 315.51 L768.48 314.84 L770 314 L771.8 312.98 L773.85 311.82 L776.11 310.53 L778.54 309.13 L781.11 307.64 L783.78 306.06 L786.52 304.43 L789.3 302.74 L792.07 301.03 L794.8 299.31 L797.45 297.6 L800 295.9 L802.57 294.12 L805.29 292.18 L808.1 290.12 L810.96 287.98 L813.82 285.82 L816.62 283.67 L819.32 281.58 L821.87 279.61 L824.21 277.79 L826.3 276.16 L828.08 274.79 L829.5 273.7 L829.5 278.9 L828.08 279.99 L826.3 281.36 L824.21 282.99 L821.87 284.81 L819.32 286.78 L816.62 288.87 L813.82 291.02 L810.96 293.18 L808.1 295.32 L805.29 297.38 L802.57 299.32 L800 301.1 L797.45 302.8 L794.8 304.51 L792.07 306.23 L789.3 307.94 L786.52 309.63 L783.78 311.26 L781.11 312.84 L778.54 314.33 L776.11 315.73 L773.85 317.02 L771.8 318.18 L770 319.2 L768.48 320.04 L767.22 320.71 L766.19 321.23 L765.33 321.62 L764.62 321.92 L764 322.16 L763.44 322.35 L762.89 322.52 L762.31 322.71 L761.67 322.93 L760.91 323.22 L760 323.6 L758.98 324.04 L757.92 324.5 L756.83 324.97 L755.7 325.45 L754.55 325.94 L753.38 326.44 L752.18 326.96 L750.96 327.47 L749.73 328 L748.5 328.53 L747.25 329.06 L746 329.6 L744.72 330.15 L743.38 330.73 L742 331.32 L740.59 331.93 L739.17 332.55 L737.75 333.16 L736.34 333.77 L734.96 334.37 L733.62 334.94 L732.34 335.5 L731.13 336.02 L730 336.5 L728.95 336.95 L727.96 337.37 L727.03 337.78 L726.15 338.16 L725.31 338.52 L724.5 338.87 L723.72 339.2 L722.96 339.52 L722.22 339.83 L721.48 340.12 L720.74 340.41 L720 340.7 L719.3 340.96 L718.68 341.18 L718.12 341.37 L717.59 341.54 L717.08 341.69 L716.56 341.85 L716.01 342.01 L715.41 342.2 L714.73 342.41 L713.95 342.65 L713.05 342.95 L712 343.3 L710.8 343.72 L709.45 344.19 L707.98 344.71 L706.41 345.27 L704.76 345.85 L703.06 346.46 L701.33 347.07 L699.59 347.68 L697.87 348.28 L696.18 348.85 L694.55 349.4 L693 349.9 L691.49 350.38 L689.97 350.85 L688.45 351.31 L686.93 351.77 L685.42 352.21 L683.94 352.64 L682.49 353.05 L681.07 353.44 L679.71 353.82 L678.41 354.17 L677.17 354.5 L676 354.8 L674.97 355.06 L674.1 355.26 L673.36 355.43 L672.7 355.56 L672.1 355.67 L671.5 355.78 L670.88 355.88 L670.19 356 L669.39 356.14 L668.45 356.31 L667.34 356.53 L666 356.8 L664.48 357.13 L662.83 357.5 L661.06 357.9 L659.19 358.33 L657.2 358.79 L655.12 359.26 L652.96 359.75 L650.7 360.23 L648.38 360.72 L645.98 361.2 L643.52 361.66 L641 362.1 L638.32 362.54 L635.39 362.99 L632.28 363.45 L629.04 363.91 L625.72 364.37 L622.38 364.83 L619.07 365.27 L615.85 365.69 L612.78 366.09 L609.91 366.46 L607.3 366.8 L605 367.1 L603.02 367.35 L601.32 367.57 L599.84 367.74 L598.56 367.89 L597.41 368.01 L596.38 368.12 L595.4 368.22 L594.44 368.31 L593.47 368.4 L592.43 368.5 L591.29 368.62 L590 368.75 L588.66 368.89 L587.38 369.03 L586.13 369.16 L584.89 369.29 L583.62 369.42 L582.31 369.55 L580.93 369.69 L579.44 369.85 L577.84 370.01 L576.08 370.19 L574.14 370.38 L572 370.6 L569.63 370.84 L567.03 371.11 L564.24 371.39 L561.3 371.69 L558.23 372.01 L555.06 372.33 L551.84 372.65 L548.59 372.98 L545.35 373.3 L542.15 373.61 L539.02 373.92 L536 374.2 L533.05 374.47 L530.12 374.73 L527.2 374.98 L524.3 375.23 L521.4 375.47 L518.5 375.71 L515.6 375.95 L512.7 376.19 L509.8 376.44 L506.88 376.68 L503.95 376.94 L501 377.2 L498.02 377.47 L494.99 377.74 L491.93 378.01 L488.85 378.29 L485.77 378.57 L482.69 378.86 L479.63 379.14 L476.59 379.43 L473.6 379.72 L470.66 380.01 L467.79 380.3 L465 380.6 L462.24 380.9 L459.46 381.22 L456.68 381.54 L453.93 381.87 L451.21 382.21 L448.56 382.54 L445.99 382.86 L443.52 383.18 L441.16 383.49 L438.95 383.78 L436.89 384.05 L435 384.3 L433.39 384.52 L432.12 384.71 L431.09 384.87 L430.26 385.02 L429.54 385.15 L428.88 385.28 L428.19 385.41 L427.41 385.55 L426.47 385.7 L425.3 385.87 L423.83 386.07 L422 386.3 L419.8 386.56 L417.32 386.83 L414.59 387.11 L411.67 387.41 L408.58 387.72 L405.38 388.05 L402.09 388.39 L398.78 388.74 L395.47 389.11 L392.21 389.49 L389.04 389.89 L386 390.3 L383.05 390.73 L380.12 391.18 L377.2 391.66 L374.3 392.15 L371.4 392.66 L368.5 393.18 L365.6 393.7 L362.7 394.23 L359.8 394.75 L356.88 395.28 L353.95 395.79 L351 396.3 L348 396.81 L344.93 397.32 L341.81 397.84 L338.67 398.37 L335.51 398.89 L332.38 399.41 L329.27 399.93 L326.22 400.43 L323.25 400.93 L320.38 401.4 L317.62 401.86 L315 402.3 L312.51 402.72 L310.12 403.12 L307.81 403.5 L305.59 403.87 L303.45 404.23 L301.38 404.58 L299.36 404.92 L297.41 405.25 L295.5 405.57 L293.63 405.88 L291.8 406.19 L290 406.5 L288.31 406.78 L286.8 407.02 L285.43 407.24 L284.15 407.44 L282.92 407.63 L281.69 407.82 L280.42 408.02 L279.07 408.25 L277.6 408.51 L275.96 408.82 L274.11 409.18 L272 409.6 L269.63 410.09 L267.03 410.64 L264.24 411.24 L261.3 411.88 L258.23 412.55 L255.06 413.25 L251.84 413.97 L248.59 414.69 L245.35 415.41 L242.15 416.13 L239.02 416.83 L236 417.5 L233.05 418.16 L230.12 418.84 L227.2 419.52 L224.3 420.21 L221.4 420.89 L218.5 421.58 L215.6 422.25 L212.7 422.91 L209.8 423.57 L206.88 424.2 L203.95 424.81 L201 425.4 L198.03 425.97 L195.05 426.52 L192.05 427.06 L189.04 427.59 L186.02 428.11 L183 428.61 L179.98 429.09 L176.96 429.56 L173.95 430.02 L170.95 430.46 L167.97 430.89 L165 431.3 L161.98 431.7 L158.88 432.07 L155.71 432.44 L152.52 432.79 L149.33 433.12 L146.19 433.44 L143.11 433.74 L140.15 434.04 L137.32 434.32 L134.66 434.59 L132.21 434.85 L130 435.1 L128.06 435.33 L126.37 435.55 L124.89 435.75 L123.59 435.93 L122.43 436.1 L121.38 436.26 L120.38 436.42 L119.41 436.57 L118.42 436.72 L117.38 436.88 L116.26 437.03 L115 437.2 L113.64 437.37 L112.22 437.55 L110.77 437.72 L109.3 437.9 L107.81 438.07 L106.31 438.24 L104.83 438.41 L103.37 438.58 L101.95 438.74 L100.57 438.9 L99.25 439.05 L98 439.2 L96.87 439.34 L95.87 439.48 L94.98 439.61 L94.15 439.74 L93.35 439.86 L92.56 439.98 L91.74 440.1 L90.85 440.21 L89.87 440.31 L88.75 440.41 L87.47 440.51 L86 440.6 L84.3 440.69 L82.41 440.77 L80.34 440.84 L78.15 440.91 L75.86 440.98 L73.5 441.04 L71.12 441.1 L68.74 441.15 L66.41 441.2 L64.15 441.24 L62 441.27 L60 441.3 L58.13 441.32 L56.34 441.33 L54.61 441.34 L52.94 441.34 L51.32 441.34 L49.72 441.33 L48.14 441.31 L46.56 441.29 L44.96 441.27 L43.35 441.25 L41.7 441.22 L40 441.2 L38.19 441.17 L36.25 441.13 L34.23 441.09 L32.15 441.04 L30.06 440.99 L28 440.94 L26.01 440.89 L24.13 440.84 L22.4 440.8 L20.86 440.76 L19.54 440.73 L18.5 440.7Z" fill="url(#ck)" shape-rendering="crispEdges"/>
<rect x="216" y="566" width="492" height="41" fill="url(#wm)" shape-rendering="crispEdges"/>
<text x="218.5" y="577.3" font-size="24" font-style="italic" fill="#9a9a9a" fill-opacity="0.9" textLength="454.5" lengthAdjust="spacingAndGlyphs">©2025 - www.machinegunpriceguide.com</text>
<text x="841" y="80.7" font-size="13.33" fill="#000">$60,000</text>
<text x="841" y="126.8" font-size="13.33" fill="#000">$55,000</text>
<text x="841" y="172.9" font-size="13.33" fill="#000">$50,000</text>
<text x="841" y="219" font-size="13.33" fill="#000">$45,000</text>
<text x="841" y="265.1" font-size="13.33" fill="#000">$40,000</text>
<text x="841" y="311.2" font-size="13.33" fill="#000">$35,000</text>
<text x="841" y="357.3" font-size="13.33" fill="#000">$30,000</text>
<text x="841" y="403.4" font-size="13.33" fill="#000">$25,000</text>
<text x="841" y="449.5" font-size="13.33" fill="#000">$20,000</text>
<text x="841" y="495.6" font-size="13.33" fill="#000">$15,000</text>
<text x="841" y="541.7" font-size="13.33" fill="#000">$10,000</text>
<g style="opacity:0.85">
<text transform="translate(20.7 545.3) rotate(-75)" font-size="8" text-anchor="end" dy="2.5" fill="#000">Oct 03</text>
<text transform="translate(33.05 545.3) rotate(-75)" font-size="8" text-anchor="end" dy="2.5" fill="#000">Dec 03</text>
<text transform="translate(45.4 545.3) rotate(-75)" font-size="8" text-anchor="end" dy="2.5" fill="#000">Apr 04</text>
<text transform="translate(57.76 545.3) rotate(-75)" font-size="8" text-anchor="end" dy="2.5" fill="#000">Jun 04</text>
<text transform="translate(70.11 545.3) rotate(-75)" font-size="8" text-anchor="end" dy="2.5" fill="#000">Aug 04</text>
<text transform="translate(82.46 545.3) rotate(-75)" font-size="8" text-anchor="end" dy="2.5" fill="#000">Oct 04</text>
<text transform="translate(94.81 545.3) rotate(-75)" font-size="8" text-anchor="end" dy="2.5" fill="#000">Dec 04</text>
<text transform="translate(107.16 545.3) rotate(-75)" font-size="8" text-anchor="end" dy="2.5" fill="#000">Feb 05</text>
<text transform="translate(119.52 545.3) rotate(-75)" font-size="8" text-anchor="end" dy="2.5" fill="#000">Apr 05</text>
<text transform="translate(131.87 545.3) rotate(-75)" font-size="8" text-anchor="end" dy="2.5" fill="#000">Jun 05</text>
<text transform="translate(144.22 545.3) rotate(-75)" font-size="8" text-anchor="end" dy="2.5" fill="#000">Aug 05</text>
<text transform="translate(156.57 545.3) rotate(-75)" font-size="8" text-anchor="end" dy="2.5" fill="#000">Oct 05</text>
<text transform="translate(168.92 545.3) rotate(-75)" font-size="8" text-anchor="end" dy="2.5" fill="#000">Dec 05</text>
<text transform="translate(181.28 545.3) rotate(-75)" font-size="8" text-anchor="end" dy="2.5" fill="#000">Feb 06</text>
<text transform="translate(193.63 545.3) rotate(-75)" font-size="8" text-anchor="end" dy="2.5" fill="#000">Apr 06</text>
<text transform="translate(205.98 545.3) rotate(-75)" font-size="8" text-anchor="end" dy="2.5" fill="#000">Sep 06</text>
<text transform="translate(218.33 545.3) rotate(-75)" font-size="8" text-anchor="end" dy="2.5" fill="#000">Nov 06</text>
<text transform="translate(230.68 545.3) rotate(-75)" font-size="8" text-anchor="end" dy="2.5" fill="#000">Jan 07</text>
<text transform="translate(243.04 545.3) rotate(-75)" font-size="8" text-anchor="end" dy="2.5" fill="#000">Mar 07</text>
<text transform="translate(255.39 545.3) rotate(-75)" font-size="8" text-anchor="end" dy="2.5" fill="#000">Jun 07</text>
<text transform="translate(267.74 545.3) rotate(-75)" font-size="8" text-anchor="end" dy="2.5" fill="#000">Aug 07</text>
<text transform="translate(280.09 545.3) rotate(-75)" font-size="8" text-anchor="end" dy="2.5" fill="#000">Oct 07</text>
<text transform="translate(292.44 545.3) rotate(-75)" font-size="8" text-anchor="end" dy="2.5" fill="#000">Dec 07</text>
<text transform="translate(304.8 545.3) rotate(-75)" font-size="8" text-anchor="end" dy="2.5" fill="#000">Feb 08</text>
<text transform="translate(317.15 545.3) rotate(-75)" font-size="8" text-anchor="end" dy="2.5" fill="#000">Apr 08</text>
<text transform="translate(329.5 545.3) rotate(-75)" font-size="8" text-anchor="end" dy="2.5" fill="#000">Jun 08</text>
<text transform="translate(341.85 545.3) rotate(-75)" font-size="8" text-anchor="end" dy="2.5" fill="#000">Aug 08</text>
<text transform="translate(354.2 545.3) rotate(-75)" font-size="8" text-anchor="end" dy="2.5" fill="#000">Oct 08</text>
<text transform="translate(366.56 545.3) rotate(-75)" font-size="8" text-anchor="end" dy="2.5" fill="#000">Dec 08</text>
<text transform="translate(378.91 545.3) rotate(-75)" font-size="8" text-anchor="end" dy="2.5" fill="#000">Feb 09</text>
<text transform="translate(391.26 545.3) rotate(-75)" font-size="8" text-anchor="end" dy="2.5" fill="#000">Apr 09</text>
<text transform="translate(403.61 545.3) rotate(-75)" font-size="8" text-anchor="end" dy="2.5" fill="#000">Jun 09</text>
<text transform="translate(415.96 545.3) rotate(-75)" font-size="8" text-anchor="end" dy="2.5" fill="#000">Aug 09</text>
<text transform="translate(428.32 545.3) rotate(-75)" font-size="8" text-anchor="end" dy="2.5" fill="#000">Oct 09</text>
<text transform="translate(440.67 545.3) rotate(-75)" font-size="8" text-anchor="end" dy="2.5" fill="#000">Dec 09</text>
<text transform="translate(453.02 545.3) rotate(-75)" font-size="8" text-anchor="end" dy="2.5" fill="#000">Feb 10</text>
<text transform="translate(465.37 545.3) rotate(-75)" font-size="8" text-anchor="end" dy="2.5" fill="#000">Apr 10</text>
<text transform="translate(477.72 545.3) rotate(-75)" font-size="8" text-anchor="end" dy="2.5" fill="#000">Jun 10</text>
<text transform="translate(490.08 545.3) rotate(-75)" font-size="8" text-anchor="end" dy="2.5" fill="#000">Aug 11</text>
<text transform="translate(502.43 545.3) rotate(-75)" font-size="8" text-anchor="end" dy="2.5" fill="#000">Dec 11</text>
<text transform="translate(514.78 545.3) rotate(-75)" font-size="8" text-anchor="end" dy="2.5" fill="#000">Feb 12</text>
<text transform="translate(527.13 545.3) rotate(-75)" font-size="8" text-anchor="end" dy="2.5" fill="#000">Apr 12</text>
<text transform="translate(539.48 545.3) rotate(-75)" font-size="8" text-anchor="end" dy="2.5" fill="#000">Jun 12</text>
<text transform="translate(551.84 545.3) rotate(-75)" font-size="8" text-anchor="end" dy="2.5" fill="#000">Aug 12</text>
<text transform="translate(564.19 545.3) rotate(-75)" font-size="8" text-anchor="end" dy="2.5" fill="#000">Oct 12</text>
<text transform="translate(576.54 545.3) rotate(-75)" font-size="8" text-anchor="end" dy="2.5" fill="#000">Dec 12</text>
<text transform="translate(588.89 545.3) rotate(-75)" font-size="8" text-anchor="end" dy="2.5" fill="#000">Feb 13</text>
<text transform="translate(601.24 545.3) rotate(-75)" font-size="8" text-anchor="end" dy="2.5" fill="#000">Apr 13</text>
<text transform="translate(613.6 545.3) rotate(-75)" font-size="8" text-anchor="end" dy="2.5" fill="#000">Jun 13</text>
<text transform="translate(625.95 545.3) rotate(-75)" font-size="8" text-anchor="end" dy="2.5" fill="#000">Aug 13</text>
<text transform="translate(638.3 545.3) rotate(-75)" font-size="8" text-anchor="end" dy="2.5" fill="#000">Oct 13</text>
<text transform="translate(650.65 545.3) rotate(-75)" font-size="8" text-anchor="end" dy="2.5" fill="#000">Dec 13</text>
<text transform="translate(663 545.3) rotate(-75)" font-size="8" text-anchor="end" dy="2.5" fill="#000">Aug 14</text>
<text transform="translate(675.36 545.3) rotate(-75)" font-size="8" text-anchor="end" dy="2.5" fill="#000">Oct 14</text>
<text transform="translate(687.71 545.3) rotate(-75)" font-size="8" text-anchor="end" dy="2.5" fill="#000">Dec 14</text>
<text transform="translate(700.06 545.3) rotate(-75)" font-size="8" text-anchor="end" dy="2.5" fill="#000">Feb 15</text>
<text transform="translate(712.41 545.3) rotate(-75)" font-size="8" text-anchor="end" dy="2.5" fill="#000">Apr 15</text>
<text transform="translate(724.76 545.3) rotate(-75)" font-size="8" text-anchor="end" dy="2.5" fill="#000">Jun 15</text>
<text transform="translate(737.12 545.3) rotate(-75)" font-size="8" text-anchor="end" dy="2.5" fill="#000">Aug 15</text>
<text transform="translate(749.47 545.3) rotate(-75)" font-size="8" text-anchor="end" dy="2.5" fill="#000">Oct 15</text>
<text transform="translate(761.82 545.3) rotate(-75)" font-size="8" text-anchor="end" dy="2.5" fill="#000">Dec 15</text>
<text transform="translate(774.17 545.3) rotate(-75)" font-size="8" text-anchor="end" dy="2.5" fill="#000">Feb 16</text>
<text transform="translate(786.52 545.3) rotate(-75)" font-size="8" text-anchor="end" dy="2.5" fill="#000">Apr 16</text>
<text transform="translate(798.88 545.3) rotate(-75)" font-size="8" text-anchor="end" dy="2.5" fill="#000">Jun 16</text>
<text transform="translate(811.23 545.3) rotate(-75)" font-size="8" text-anchor="end" dy="2.5" fill="#000">Aug 17</text>
<text transform="translate(823.58 545.3) rotate(-75)" font-size="8" text-anchor="end" dy="2.5" fill="#000">Sep 21</text>
</g>
<g shape-rendering="crispEdges">
<rect x="21" y="77.5" width="353.5" height="186" fill="#fff" stroke="#000" stroke-width="1"/>
<rect x="20" y="77" width="2" height="187" fill="#000"/>
<rect x="374" y="77" width="1.4" height="187" fill="#000"/>
<rect x="68.5" y="102.5" width="290" height="101.5" fill="#c0c0c0" stroke="#808080" stroke-width="1"/>
<rect x="68" y="183.7" width="1" height="20.3" fill="#000"/>
<rect x="70" y="183.7" width="1" height="20.3" fill="#000"/>
<rect x="72" y="163.4" width="1" height="40.6" fill="#000"/>
<rect x="74" y="163.4" width="1" height="40.6" fill="#000"/>
<rect x="77" y="143.1" width="1" height="60.9" fill="#000"/>
<rect x="79" y="163.4" width="1" height="40.6" fill="#000"/>
<rect x="81" y="143.1" width="1" height="60.9" fill="#000"/>
<rect x="83" y="122.8" width="1" height="81.2" fill="#000"/>
<rect x="85" y="163.4" width="1" height="40.6" fill="#000"/>
<rect x="88" y="163.4" width="1" height="40.6" fill="#000"/>
<rect x="90" y="163.4" width="1" height="40.6" fill="#000"/>
<rect x="92" y="143.1" width="1" height="60.9" fill="#000"/>
<rect x="94" y="122.8" width="1" height="81.2" fill="#000"/>
<rect x="97" y="122.8" width="1" height="81.2" fill="#000"/>
<rect x="99" y="143.1" width="1" height="60.9" fill="#000"/>
<rect x="101" y="163.4" width="1" height="40.6" fill="#000"/>
<rect x="103" y="143.1" width="1" height="60.9" fill="#000"/>
<rect x="105" y="163.4" width="1" height="40.6" fill="#000"/>
<rect x="108" y="163.4" width="1" height="40.6" fill="#000"/>
<rect x="110" y="183.7" width="1" height="20.3" fill="#000"/>
<rect x="112" y="163.4" width="1" height="40.6" fill="#000"/>
<rect x="114" y="163.4" width="1" height="40.6" fill="#000"/>
<rect x="116" y="143.1" width="1" height="60.9" fill="#000"/>
<rect x="119" y="163.4" width="1" height="40.6" fill="#000"/>
<rect x="121" y="183.7" width="1" height="20.3" fill="#000"/>
<rect x="123" y="183.7" width="1" height="20.3" fill="#000"/>
<rect x="125" y="163.4" width="1" height="40.6" fill="#000"/>
<rect x="128" y="183.7" width="1" height="20.3" fill="#000"/>
<rect x="130" y="183.7" width="1" height="20.3" fill="#000"/>
<rect x="132" y="183.7" width="1" height="20.3" fill="#000"/>
<rect x="134" y="183.7" width="1" height="20.3" fill="#000"/>
<rect x="136" y="183.7" width="1" height="20.3" fill="#000"/>
<rect x="139" y="183.7" width="1" height="20.3" fill="#000"/>
<rect x="141" y="183.7" width="1" height="20.3" fill="#000"/>
<rect x="143" y="183.7" width="1" height="20.3" fill="#000"/>
<rect x="145" y="183.7" width="1" height="20.3" fill="#000"/>
<rect x="147" y="183.7" width="1" height="20.3" fill="#000"/>
<rect x="150" y="183.7" width="1" height="20.3" fill="#000"/>
<rect x="152" y="163.4" width="1" height="40.6" fill="#000"/>
<rect x="154" y="183.7" width="1" height="20.3" fill="#000"/>
<rect x="156" y="183.7" width="1" height="20.3" fill="#000"/>
<rect x="158" y="183.7" width="1" height="20.3" fill="#000"/>
<rect x="161" y="163.4" width="1" height="40.6" fill="#000"/>
<rect x="163" y="143.1" width="1" height="60.9" fill="#000"/>
<rect x="165" y="163.4" width="1" height="40.6" fill="#000"/>
<rect x="167" y="163.4" width="1" height="40.6" fill="#000"/>
<rect x="170" y="183.7" width="1" height="20.3" fill="#000"/>
<rect x="172" y="163.4" width="1" height="40.6" fill="#000"/>
<rect x="174" y="163.4" width="1" height="40.6" fill="#000"/>
<rect x="176" y="163.4" width="1" height="40.6" fill="#000"/>
<rect x="178" y="163.4" width="1" height="40.6" fill="#000"/>
<rect x="181" y="143.1" width="1" height="60.9" fill="#000"/>
<rect x="183" y="163.4" width="1" height="40.6" fill="#000"/>
<rect x="185" y="143.1" width="1" height="60.9" fill="#000"/>
<rect x="187" y="183.7" width="1" height="20.3" fill="#000"/>
<rect x="189" y="163.4" width="1" height="40.6" fill="#000"/>
<rect x="192" y="183.7" width="1" height="20.3" fill="#000"/>
<rect x="194" y="183.7" width="1" height="20.3" fill="#000"/>
<rect x="196" y="183.7" width="1" height="20.3" fill="#000"/>
<rect x="198" y="183.7" width="1" height="20.3" fill="#000"/>
<rect x="201" y="183.7" width="1" height="20.3" fill="#000"/>
<rect x="203" y="143.1" width="1" height="60.9" fill="#000"/>
<rect x="205" y="163.4" width="1" height="40.6" fill="#000"/>
<rect x="207" y="163.4" width="1" height="40.6" fill="#000"/>
<rect x="209" y="183.7" width="1" height="20.3" fill="#000"/>
<rect x="212" y="183.7" width="1" height="20.3" fill="#000"/>
<rect x="214" y="183.7" width="1" height="20.3" fill="#000"/>
<rect x="216" y="183.7" width="1" height="20.3" fill="#000"/>
<rect x="218" y="183.7" width="1" height="20.3" fill="#000"/>
<rect x="220" y="183.7" width="1" height="20.3" fill="#000"/>
<rect x="223" y="163.4" width="1" height="40.6" fill="#000"/>
<rect x="225" y="183.7" width="1" height="20.3" fill="#000"/>
<rect x="227" y="183.7" width="1" height="20.3" fill="#000"/>
<rect x="229" y="183.7" width="1" height="20.3" fill="#000"/>
<rect x="231" y="183.7" width="1" height="20.3" fill="#000"/>
<rect x="234" y="183.7" width="1" height="20.3" fill="#000"/>
<rect x="236" y="183.7" width="1" height="20.3" fill="#000"/>
<rect x="238" y="183.7" width="1" height="20.3" fill="#000"/>
<rect x="240" y="183.7" width="1" height="20.3" fill="#000"/>
<rect x="243" y="183.7" width="1" height="20.3" fill="#000"/>
<rect x="245" y="183.7" width="1" height="20.3" fill="#000"/>
<rect x="247" y="183.7" width="1" height="20.3" fill="#000"/>
<rect x="249" y="183.7" width="1" height="20.3" fill="#000"/>
<rect x="251" y="183.7" width="1" height="20.3" fill="#000"/>
<rect x="254" y="183.7" width="1" height="20.3" fill="#000"/>
<rect x="256" y="183.7" width="1" height="20.3" fill="#000"/>
<rect x="258" y="183.7" width="1" height="20.3" fill="#000"/>
<rect x="260" y="183.7" width="1" height="20.3" fill="#000"/>
<rect x="262" y="183.7" width="1" height="20.3" fill="#000"/>
<rect x="265" y="183.7" width="1" height="20.3" fill="#000"/>
<rect x="267" y="183.7" width="1" height="20.3" fill="#000"/>
<rect x="269" y="183.7" width="1" height="20.3" fill="#000"/>
<rect x="271" y="183.7" width="1" height="20.3" fill="#000"/>
<rect x="274" y="183.7" width="1" height="20.3" fill="#000"/>
<rect x="276" y="183.7" width="1" height="20.3" fill="#000"/>
<rect x="278" y="183.7" width="1" height="20.3" fill="#000"/>
<rect x="280" y="183.7" width="1" height="20.3" fill="#000"/>
<rect x="282" y="183.7" width="1" height="20.3" fill="#000"/>
<rect x="285" y="183.7" width="1" height="20.3" fill="#000"/>
<rect x="287" y="183.7" width="1" height="20.3" fill="#000"/>
<rect x="289" y="183.7" width="1" height="20.3" fill="#000"/>
<rect x="291" y="183.7" width="1" height="20.3" fill="#000"/>
<rect x="293" y="183.7" width="1" height="20.3" fill="#000"/>
<rect x="296" y="183.7" width="1" height="20.3" fill="#000"/>
<rect x="298" y="183.7" width="1" height="20.3" fill="#000"/>
<rect x="300" y="183.7" width="1" height="20.3" fill="#000"/>
<rect x="302" y="183.7" width="1" height="20.3" fill="#000"/>
<rect x="304" y="183.7" width="1" height="20.3" fill="#000"/>
<rect x="307" y="183.7" width="1" height="20.3" fill="#000"/>
<rect x="309" y="183.7" width="1" height="20.3" fill="#000"/>
<rect x="311" y="183.7" width="1" height="20.3" fill="#000"/>
<rect x="313" y="183.7" width="1" height="20.3" fill="#000"/>
<rect x="316" y="183.7" width="1" height="20.3" fill="#000"/>
<rect x="318" y="183.7" width="1" height="20.3" fill="#000"/>
<rect x="320" y="183.7" width="1" height="20.3" fill="#000"/>
<rect x="322" y="183.7" width="1" height="20.3" fill="#000"/>
<rect x="324" y="183.7" width="1" height="20.3" fill="#000"/>
<rect x="327" y="183.7" width="1" height="20.3" fill="#000"/>
<rect x="329" y="183.7" width="1" height="20.3" fill="#000"/>
<rect x="331" y="183.7" width="1" height="20.3" fill="#000"/>
<rect x="333" y="183.7" width="1" height="20.3" fill="#000"/>
<rect x="335" y="183.7" width="1" height="20.3" fill="#000"/>
<rect x="338" y="183.7" width="1" height="20.3" fill="#000"/>
<rect x="340" y="183.7" width="1" height="20.3" fill="#000"/>
<rect x="342" y="183.7" width="1" height="20.3" fill="#000"/>
<rect x="344" y="183.7" width="1" height="20.3" fill="#000"/>
<rect x="347" y="183.7" width="1" height="20.3" fill="#000"/>
<rect x="349" y="183.7" width="1" height="20.3" fill="#000"/>
<rect x="351" y="183.7" width="1" height="20.3" fill="#000"/>
<rect x="353" y="183.7" width="1" height="20.3" fill="#000"/>
<rect x="355" y="183.7" width="1" height="20.3" fill="#000"/>
<rect x="358" y="183.7" width="1" height="20.3" fill="#000"/>
<rect x="68" y="102" width="1" height="103" fill="#000"/>
<rect x="66" y="102" width="3" height="1" fill="#000"/>
<rect x="66" y="204" width="293" height="1" fill="#000"/>
<rect x="68" y="204" width="1" height="3" fill="#000"/>
<rect x="72" y="204" width="1" height="3" fill="#000"/>
<rect x="77" y="204" width="1" height="3" fill="#000"/>
<rect x="81" y="204" width="1" height="3" fill="#000"/>
<rect x="85" y="204" width="1" height="3" fill="#000"/>
<rect x="90" y="204" width="1" height="3" fill="#000"/>
<rect x="94" y="204" width="1" height="3" fill="#000"/>
<rect x="99" y="204" width="1" height="3" fill="#000"/>
<rect x="103" y="204" width="1" height="3" fill="#000"/>
<rect x="108" y="204" width="1" height="3" fill="#000"/>
<rect x="112" y="204" width="1" height="3" fill="#000"/>
<rect x="116" y="204" width="1" height="3" fill="#000"/>
<rect x="121" y="204" width="1" height="3" fill="#000"/>
<rect x="125" y="204" width="1" height="3" fill="#000"/>
<rect x="130" y="204" width="1" height="3" fill="#000"/>
<rect x="134" y="204" width="1" height="3" fill="#000"/>
<rect x="139" y="204" width="1" height="3" fill="#000"/>
<rect x="143" y="204" width="1" height="3" fill="#000"/>
<rect x="147" y="204" width="1" height="3" fill="#000"/>
<rect x="152" y="204" width="1" height="3" fill="#000"/>
<rect x="156" y="204" width="1" height="3" fill="#000"/>
<rect x="161" y="204" width="1" height="3" fill="#000"/>
<rect x="165" y="204" width="1" height="3" fill="#000"/>
<rect x="170" y="204" width="1" height="3" fill="#000"/>
<rect x="174" y="204" width="1" height="3" fill="#000"/>
<rect x="178" y="204" width="1" height="3" fill="#000"/>
<rect x="183" y="204" width="1" height="3" fill="#000"/>
<rect x="187" y="204" width="1" height="3" fill="#000"/>
<rect x="192" y="204" width="1" height="3" fill="#000"/>
<rect x="196" y="204" width="1" height="3" fill="#000"/>
<rect x="201" y="204" width="1" height="3" fill="#000"/>
<rect x="205" y="204" width="1" height="3" fill="#000"/>
<rect x="209" y="204" width="1" height="3" fill="#000"/>
<rect x="214" y="204" width="1" height="3" fill="#000"/>
<rect x="218" y="204" width="1" height="3" fill="#000"/>
<rect x="223" y="204" width="1" height="3" fill="#000"/>
<rect x="227" y="204" width="1" height="3" fill="#000"/>
<rect x="231" y="204" width="1" height="3" fill="#000"/>
<rect x="236" y="204" width="1" height="3" fill="#000"/>
<rect x="240" y="204" width="1" height="3" fill="#000"/>
<rect x="245" y="204" width="1" height="3" fill="#000"/>
<rect x="249" y="204" width="1" height="3" fill="#000"/>
<rect x="254" y="204" width="1" height="3" fill="#000"/>
<rect x="258" y="204" width="1" height="3" fill="#000"/>
<rect x="262" y="204" width="1" height="3" fill="#000"/>
<rect x="267" y="204" width="1" height="3" fill="#000"/>
<rect x="271" y="204" width="1" height="3" fill="#000"/>
<rect x="276" y="204" width="1" height="3" fill="#000"/>
<rect x="280" y="204" width="1" height="3" fill="#000"/>
<rect x="285" y="204" width="1" height="3" fill="#000"/>
<rect x="289" y="204" width="1" height="3" fill="#000"/>
<rect x="293" y="204" width="1" height="3" fill="#000"/>
<rect x="298" y="204" width="1" height="3" fill="#000"/>
<rect x="302" y="204" width="1" height="3" fill="#000"/>
<rect x="307" y="204" width="1" height="3" fill="#000"/>
<rect x="311" y="204" width="1" height="3" fill="#000"/>
<rect x="316" y="204" width="1" height="3" fill="#000"/>
<rect x="320" y="204" width="1" height="3" fill="#000"/>
<rect x="324" y="204" width="1" height="3" fill="#000"/>
<rect x="329" y="204" width="1" height="3" fill="#000"/>
<rect x="333" y="204" width="1" height="3" fill="#000"/>
<rect x="338" y="204" width="1" height="3" fill="#000"/>
<rect x="342" y="204" width="1" height="3" fill="#000"/>
<rect x="347" y="204" width="1" height="3" fill="#000"/>
<rect x="351" y="204" width="1" height="3" fill="#000"/>
<rect x="355" y="204" width="1" height="3" fill="#000"/>
</g>
<text x="62" y="105.5" font-size="8" text-anchor="end">5</text>
<text x="62" y="207.5" font-size="8" text-anchor="end">0</text>
<text transform="translate(47.8 147.3) rotate(-90)" font-size="8" font-weight="bold" text-anchor="middle" style="white-space:pre" xml:space="preserve">Sample  Count</text>
<text transform="translate(69.4 210) rotate(-90)" font-size="8.1" text-anchor="end" fill="#000">Oct 03</text>
<text transform="translate(76.04 210) rotate(-90)" font-size="8.1" text-anchor="end" fill="#000">Mar 04</text>
<text transform="translate(82.67 210) rotate(-90)" font-size="8.1" text-anchor="end" fill="#000">Jun 04</text>
<text transform="translate(89.31 210) rotate(-90)" font-size="8.1" text-anchor="end" fill="#000">Sep 04</text>
<text transform="translate(95.94 210) rotate(-90)" font-size="8.1" text-anchor="end" fill="#000">Dec 04</text>
<text transform="translate(102.58 210) rotate(-90)" font-size="8.1" text-anchor="end" fill="#000">Mar 05</text>
<text transform="translate(109.22 210) rotate(-90)" font-size="8.1" text-anchor="end" fill="#000">Jun 05</text>
<text transform="translate(115.85 210) rotate(-90)" font-size="8.1" text-anchor="end" fill="#000">Sep 05</text>
<text transform="translate(122.49 210) rotate(-90)" font-size="8.1" text-anchor="end" fill="#000">Dec 05</text>
<text transform="translate(129.12 210) rotate(-90)" font-size="8.1" text-anchor="end" fill="#000">Mar 06</text>
<text transform="translate(135.76 210) rotate(-90)" font-size="8.1" text-anchor="end" fill="#000">Sep 06</text>
<text transform="translate(142.4 210) rotate(-90)" font-size="8.1" text-anchor="end" fill="#000">Dec 06</text>
<text transform="translate(149.03 210) rotate(-90)" font-size="8.1" text-anchor="end" fill="#000">Mar 07</text>
<text transform="translate(155.67 210) rotate(-90)" font-size="8.1" text-anchor="end" fill="#000">Jul 07</text>
<text transform="translate(162.3 210) rotate(-90)" font-size="8.1" text-anchor="end" fill="#000">Oct 07</text>
<text transform="translate(168.94 210) rotate(-90)" font-size="8.1" text-anchor="end" fill="#000">Jan 08</text>
<text transform="translate(175.58 210) rotate(-90)" font-size="8.1" text-anchor="end" fill="#000">Apr 08</text>
<text transform="translate(182.21 210) rotate(-90)" font-size="8.1" text-anchor="end" fill="#000">Jul 08</text>
<text transform="translate(188.85 210) rotate(-90)" font-size="8.1" text-anchor="end" fill="#000">Oct 08</text>
<text transform="translate(195.48 210) rotate(-90)" font-size="8.1" text-anchor="end" fill="#000">Jan 09</text>
<text transform="translate(202.12 210) rotate(-90)" font-size="8.1" text-anchor="end" fill="#000">Apr 09</text>
<text transform="translate(208.76 210) rotate(-90)" font-size="8.1" text-anchor="end" fill="#000">Jul 09</text>
<text transform="translate(215.39 210) rotate(-90)" font-size="8.1" text-anchor="end" fill="#000">Oct 09</text>
<text transform="translate(222.03 210) rotate(-90)" font-size="8.1" text-anchor="end" fill="#000">Jan 10</text>
<text transform="translate(228.66 210) rotate(-90)" font-size="8.1" text-anchor="end" fill="#000">Apr 10</text>
<text transform="translate(235.3 210) rotate(-90)" font-size="8.1" text-anchor="end" fill="#000">Jul 10</text>
<text transform="translate(241.94 210) rotate(-90)" font-size="8.1" text-anchor="end" fill="#000">Dec 11</text>
<text transform="translate(248.57 210) rotate(-90)" font-size="8.1" text-anchor="end" fill="#000">Mar 12</text>
<text transform="translate(255.21 210) rotate(-90)" font-size="8.1" text-anchor="end" fill="#000">Jun 12</text>
<text transform="translate(261.84 210) rotate(-90)" font-size="8.1" text-anchor="end" fill="#000">Sep 12</text>
<text transform="translate(268.48 210) rotate(-90)" font-size="8.1" text-anchor="end" fill="#000">Dec 12</text>
<text transform="translate(275.12 210) rotate(-90)" font-size="8.1" text-anchor="end" fill="#000">Mar 13</text>
<text transform="translate(281.75 210) rotate(-90)" font-size="8.1" text-anchor="end" fill="#000">Jun 13</text>
<text transform="translate(288.39 210) rotate(-90)" font-size="8.1" text-anchor="end" fill="#000">Sep 13</text>
<text transform="translate(295.02 210) rotate(-90)" font-size="8.1" text-anchor="end" fill="#000">Dec 13</text>
<text transform="translate(301.66 210) rotate(-90)" font-size="8.1" text-anchor="end" fill="#000">Sep 14</text>
<text transform="translate(308.3 210) rotate(-90)" font-size="8.1" text-anchor="end" fill="#000">Dec 14</text>
<text transform="translate(314.93 210) rotate(-90)" font-size="8.1" text-anchor="end" fill="#000">Mar 15</text>
<text transform="translate(321.57 210) rotate(-90)" font-size="8.1" text-anchor="end" fill="#000">Jun 15</text>
<text transform="translate(328.2 210) rotate(-90)" font-size="8.1" text-anchor="end" fill="#000">Sep 15</text>
<text transform="translate(334.84 210) rotate(-90)" font-size="8.1" text-anchor="end" fill="#000">Dec 15</text>
<text transform="translate(341.48 210) rotate(-90)" font-size="8.1" text-anchor="end" fill="#000">Mar 16</text>
<text transform="translate(348.11 210) rotate(-90)" font-size="8.1" text-anchor="end" fill="#000">Jun 16</text>
<text transform="translate(354.75 210) rotate(-90)" font-size="8.1" text-anchor="end" fill="#000">Sep 17</text>
<g font-family="Liberation Serif" font-size="24.8"><text transform="translate(144 380.4) scale(0.73 1)" style="font-family:'Liberation Serif',serif" fill="#bdbdbd">High</text><text transform="translate(140 377.4) scale(0.73 1)" style="font-family:'Liberation Serif',serif" fill="#2e68a0">High</text></g>
<g font-family="Liberation Serif" font-size="32.8"><text transform="translate(48.7 507.7) scale(0.55 1)" style="font-family:'Liberation Serif',serif" fill="#bdbdbd">Low</text><text transform="translate(44.7 504.7) scale(0.55 1)" style="font-family:'Liberation Serif',serif" fill="#2e68a0">Low</text></g>
<g font-family="Liberation Serif" font-size="28.5"><text transform="translate(524 312.5) scale(0.777 1)" style="font-family:'Liberation Serif',serif" fill="#bdbdbd">Average</text><text transform="translate(520.5 310) scale(0.777 1)" style="font-family:'Liberation Serif',serif" fill="#000">Average</text></g>
</svg></body></html>
